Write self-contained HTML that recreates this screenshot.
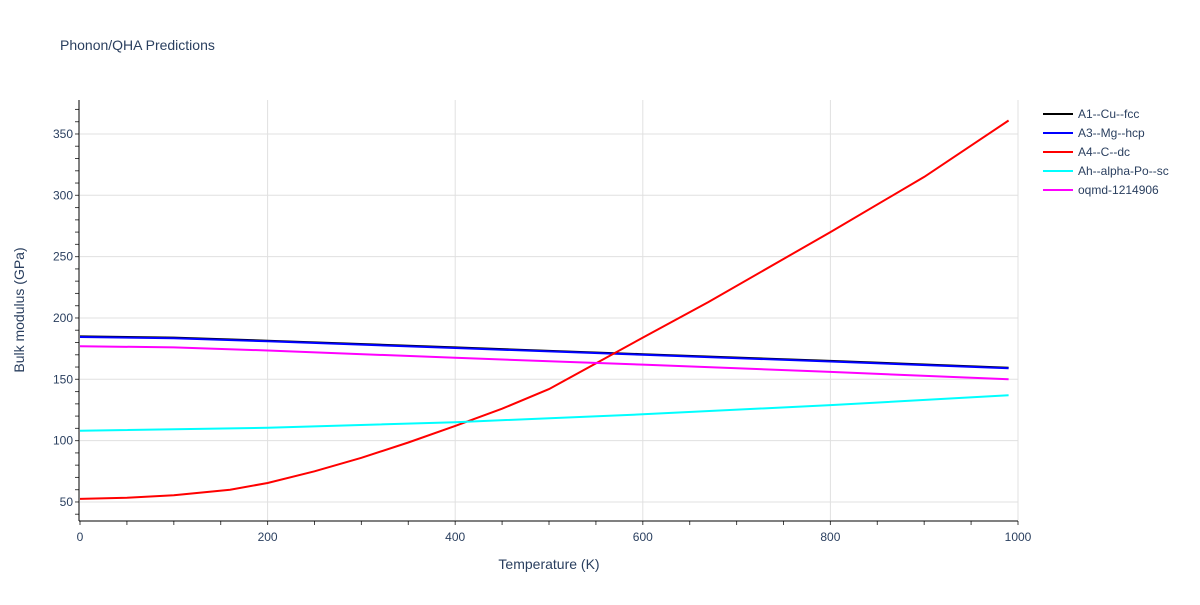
<!DOCTYPE html>
<html><head><meta charset="utf-8"><style>
body{margin:0;background:#fff;font-family:"Liberation Sans",sans-serif;}
svg text{font-family:"Liberation Sans",sans-serif;fill:#2a3f5f;}
</style></head><body>
<svg id="chart" width="1200" height="600">
<text x="60" y="50" font-size="14">Phonon/QHA Predictions</text>
<g id="grid"></g>
<g id="axes"></g>
<g id="series"></g>
<g id="legend"></g>
<text x="549" y="569" font-size="14" text-anchor="middle">Temperature (K)</text>
<text transform="translate(24,310) rotate(-90)" font-size="14" text-anchor="middle">Bulk modulus (GPa)</text>
</svg>
<script>
const xTicks=[0,200,400,600,800,1000];
const yTicks=[50,100,150,200,250,300,350];
const seriesNames=["A1--Cu--fcc","A3--Mg--hcp","A4--C--dc","Ah--alpha-Po--sc","oqmd-1214906"];
const seriesColors=["#000000","#0000ff","#ff0000","#00ffff","#ff00ff"];
const cuT=[0,100,200,400,600,800,990];
const cuV=[185,184,181.5,176,170.5,165,159.5];
const mgT=[0,100,200,400,600,800,990];
const mgV=[184.5,183.5,181,175.5,170,164.5,159];
const cT=[0,50,100,160,200,250,300,350,400,450,500,550,600,670,800,900,990];
const cV=[52.5,53.5,55.5,60,65.5,75,86,98.5,112,126,142,163,184,213,270,315,361];
const poT=[0,200,400,600,800,990];
const poV=[108,110.5,115,121.5,129,137];
const oqT=[0,100,200,400,600,800,990];
const oqV=[177,176,173.5,167.5,162,156,150];
const X0=80,X1=1018,Y0=520,Y1=100,xmin=0,xmax=1000,ymin=35.3,ymax=377.7;
const sx=v=>X0+(v-xmin)/(xmax-xmin)*(X1-X0);
const sy=v=>Y0-(v-ymin)/(ymax-ymin)*(Y0-Y1);
const NS="http://www.w3.org/2000/svg";
function mk(tag,parent,attrs){const e=document.createElementNS(NS,tag);for(const k in attrs)e.setAttribute(k,attrs[k]);parent.appendChild(e);return e;}
const grid=document.getElementById('grid'),axes=document.getElementById('axes'),ser=document.getElementById('series'),leg=document.getElementById('legend');
xTicks.forEach(t=>{
 if(t>0){const l=mk('line',grid,{x1:sx(t),x2:sx(t),y1:Y1,y2:Y0,stroke:'#e0e0e0'});
 
 }
 const tx=mk('text',axes,{x:sx(t),y:Y0+21,'font-size':12,'text-anchor':'middle'});tx.textContent=t;
 
 
});
yTicks.forEach(t=>{
 const l=mk('line',grid,{x1:X0,x2:X1,y1:sy(t),y2:sy(t),stroke:'#e0e0e0'});
 
 
 const tx=mk('text',axes,{x:X0-7,y:sy(t)+4,'font-size':12,'text-anchor':'end'});tx.textContent=t;
 
 
});
for(let v=40;v<=370;v+=10){mk('line',axes,{x1:X0-5,x2:X0-1,y1:sy(v),y2:sy(v),stroke:'#444'});}
for(let v=0;v<=1000;v+=50){mk('line',axes,{x1:sx(v),x2:sx(v),y1:Y0+1,y2:Y0+5,stroke:'#444'});}
const ya=mk('line',axes,{x1:X0-1,x2:X0-1,y1:Y1,y2:Y0+1,stroke:'#000'});


const xa=mk('line',axes,{x1:X0-1,x2:X1,y1:Y0+1,y2:Y0+1,stroke:'#000'});


const allT=[cuT,mgT,cT,poT,oqT],allV=[cuV,mgV,cV,poV,oqV];
allT.forEach((T,i)=>{
 const d=T.map((t,j)=>(j?'L':'M')+sx(t).toFixed(1)+','+sy(allV[i][j]).toFixed(1)).join('');
 const p=mk('path',ser,{d:d,fill:'none',stroke:seriesColors[i],'stroke-width':2});
 
 
 const g=mk('g',leg,{});
 
 
 const y=114+i*19;
 mk('line',g,{x1:1043,x2:1073,y1:y,y2:y,stroke:seriesColors[i],'stroke-width':2});
 const tx=mk('text',g,{x:1078,y:y+4,'font-size':12});tx.textContent=seriesNames[i];
});
</script>
</body></html>
